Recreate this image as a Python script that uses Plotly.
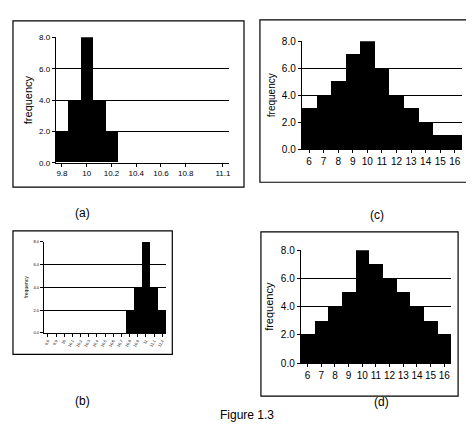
import plotly.graph_objects as go

a_cats = ["9.8","9.9","10","10.1","10.2","10.3","10.4","10.5","10.6","10.7","10.8","10.9","11","11.1"]
a_vals = [2,4,8,4,2,0,0,0,0,0,0,0,0,0]
a_ticks = ["9.8","10","10.2","10.4","10.6","10.8","11.1"]
b_cats = ["9.8","9.9","10","10.1","10.2","10.3","10.4","10.5","10.6","10.7","10.8","10.9","11","11.1","11.2"]
b_vals = [0,0,0,0,0,0,0,0,0,0,2,4,8,4,2]
c_cats = ["6","7","8","9","10","11","12","13","14","15","16"]
c_vals = [3,4,5,7,8,6,4,3,2,1,1]
d_cats = ["6","7","8","9","10","11","12","13","14","15","16"]
d_vals = [2,3,4,5,8,7,6,5,4,3,2]
yticks = [0,2,4,6,8]
ylabels = ["0.0","2.0","4.0","6.0","8.0"]

W, H = 474, 435
def px(x): return x / W
def py(y): return 1 - y / H

panels = [
    ("", a_cats, a_vals, (48,222,24,153), (5,237,7,178), 8, a_ticks, 0, 11),
    ("2", b_cats, b_vals, (36,159,234,328), (5,165,223,350), 4, b_cats, -60, 5),
    ("3", c_cats, c_vals, (295,456,28,139), (253,463,6,173), 10, c_cats, 0, 10),
    ("4", d_cats, d_vals, (294,445,243,359), (254,452,224,393), 10, d_cats, 0, 11),
]

fig = go.Figure()
shapes = []
for name, cats, vals, pb, fb, tf, tl, ang, ttf in panels:
    fig.add_trace(go.Bar(x=cats, y=vals, marker=dict(color="black", line=dict(width=0)),
                         xaxis="x"+name, yaxis="y"+name, showlegend=False))
    fig.layout["xaxis"+name] = dict(domain=[px(pb[0]), px(pb[1])], anchor="y"+name,
        type="category", tickvals=tl, ticktext=tl, tickangle=ang, showline=True, linecolor="black",
        ticks="outside", ticklen=3, tickcolor="black", tickfont=dict(size=tf, color="black", family="Arial"),
        showgrid=False)
    fig.layout["yaxis"+name] = dict(domain=[py(pb[3]), py(pb[2])], anchor="x"+name, range=[0,8],
        tickvals=yticks, ticktext=ylabels, showline=True, linecolor="black", ticks="outside", ticklen=3,
        tickcolor="black", showgrid=True, gridcolor="black", gridwidth=1,
        tickfont=dict(size=tf, color="black", family="Arial"),
        title=dict(text="frequency", font=dict(size=ttf, color="black", family="Arial"), standoff=4))
    shapes.append(dict(type="rect", xref="paper", yref="paper", x0=px(fb[0]), x1=px(fb[1]),
                       y0=py(fb[3]), y1=py(fb[2]), line=dict(color="black", width=1.2)))

anns = [("(a)",65,205),("(b)",65,407),("(c)",380,207),("(d)",385,408),("Figure 1.3",240,422)]
annotations = [dict(text=t, x=px(x), y=py(y), xref="paper", yref="paper", showarrow=False,
                    font=dict(size=12, color="black", family="Arial")) for t,x,y in anns]

fig.update_layout(width=W, height=H, margin=dict(l=0,r=0,t=0,b=0), bargap=0,
                  plot_bgcolor="white", paper_bgcolor="white", shapes=shapes, annotations=annotations)
fig.write_html("out.html")
